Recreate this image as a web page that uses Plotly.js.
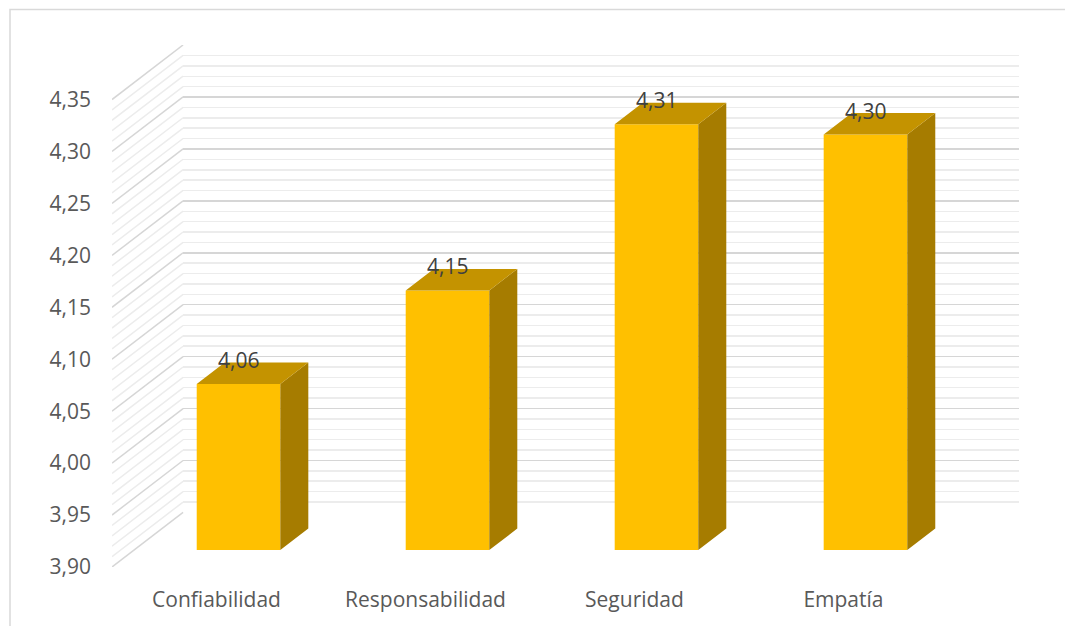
<!DOCTYPE html>
<html>
<head>
<meta charset="utf-8">
<script src="https://cdn.plot.ly/plotly-3.0.1.min.js"></script>
<style>html,body{margin:0;padding:0;background:#fff;}#chart{width:1065px;height:626px;}</style>
</head>
<body>
<div id="chart"></div>
<script>
// ---- data ----
const categories = ['Confiabilidad', 'Responsabilidad', 'Seguridad', 'Empatía'];
const values = [4.06, 4.15, 4.31, 4.30];
const valueTicks = [3.90, 3.95, 4.00, 4.05, 4.10, 4.15, 4.20, 4.25, 4.30, 4.35];
const minorStep = 0.01;

// ---- projection settings (oblique 3D look) ----
const AX_MIN = 3.90, AX_MAX = 4.35;
const DEPTH_X = 0.34;      // category units shift for full depth
const DEPTH_Y = 0.0525;    // value units shift for full depth
const BAR_START = 0.31;    // fraction of depth where bar front sits
const BAR_DEPTH = 0.394;   // fraction of depth the bar occupies
const BAR_WIDTH = 0.4;

const W = 1065, H = 626;
const px = v => v / W, py = v => 1 - v / H;

// left wall diagonals
function diagonals(major) {
  const xs = [], ys = [];
  const n = Math.round((AX_MAX - AX_MIN) / minorStep);
  for (let k = 0; k <= n; k++) {
    const v = AX_MIN + k * minorStep;
    const isMajor = (k % 5 === 0);
    if (isMajor !== major) continue;
    xs.push(-0.5, -0.5 + DEPTH_X, null);
    ys.push(v, v + DEPTH_Y, null);
  }
  return {x: xs, y: ys};
}
const dMinor = diagonals(false), dMajor = diagonals(true);

const fx = BAR_START * DEPTH_X, fy = BAR_START * DEPTH_Y;
const gx = BAR_DEPTH * DEPTH_X, gy = BAR_DEPTH * DEPTH_Y;
const base = AX_MIN + fy;

const sideX = [], sideY = [], topX = [], topY = [];
values.forEach((v, i) => {
  const xl = i + fx - BAR_WIDTH / 2, xr = i + fx + BAR_WIDTH / 2;
  const t = v + fy;
  sideX.push(xr, xr, xr + gx, xr + gx, xr, null);
  sideY.push(base, t, t + gy, base + gy, base, null);
  topX.push(xl, xr, xr + gx, xl + gx, xl, null);
  topY.push(t, t, t + gy, t + gy, t, null);
});

const FONT = '"Open Sans", Lato, sans-serif';

const traces = [
  // empty trace that keeps the back-wall subplot (its gridlines) alive
  {type: 'scatter', mode: 'none', x: [0.5], y: [AX_MIN], xaxis: 'x', yaxis: 'y',
   hoverinfo: 'skip', showlegend: false},
  {type: 'scatter', mode: 'lines', x: dMinor.x, y: dMinor.y, xaxis: 'x2', yaxis: 'y2',
   line: {color: '#ececec', width: 1.5}, hoverinfo: 'skip', showlegend: false},
  {type: 'scatter', mode: 'lines', x: dMajor.x, y: dMajor.y, xaxis: 'x2', yaxis: 'y2',
   line: {color: '#d6d6d6', width: 1.5}, hoverinfo: 'skip', showlegend: false},
  {type: 'bar', x: values.map((v, i) => i + fx), y: values.map(v => v - AX_MIN),
   base: values.map(() => base), width: BAR_WIDTH, xaxis: 'x2', yaxis: 'y2',
   marker: {color: '#FFC000', line: {width: 0}}, showlegend: false, hoverinfo: 'skip'},
  {type: 'scatter', mode: 'lines', x: sideX, y: sideY, fill: 'toself', fillcolor: '#A67C00',
   line: {width: 0, color: '#A67C00'}, xaxis: 'x2', yaxis: 'y2', showlegend: false, hoverinfo: 'skip'},
  {type: 'scatter', mode: 'lines', x: topX, y: topY, fill: 'toself', fillcolor: '#C49300',
   line: {width: 0, color: '#C49300'}, xaxis: 'x2', yaxis: 'y2', showlegend: false, hoverinfo: 'skip'}
];

const annotations = values.map((v, i) => ({
  xref: 'x2', yref: 'y2', x: i + fx, y: v + fy, yshift: 24, yanchor: 'middle', xanchor: 'center',
  text: v.toFixed(2).replace('.', ','), showarrow: false,
  font: {family: FONT, size: 21, color: '#404040'}
}));

const layout = {
  width: W, height: H,
  margin: {l: 0, r: 0, t: 0, b: 0},
  paper_bgcolor: '#ffffff', plot_bgcolor: 'rgba(0,0,0,0)',
  separators: ',.',
  showlegend: false, hovermode: false,
  // back wall
  xaxis: {domain: [px(183), px(1019)], anchor: 'y', range: [0, 1], showgrid: false, zeroline: false,
          showticklabels: false, ticks: '', showline: false},
  yaxis: {domain: [py(512.5), py(45)], anchor: 'x', range: [AX_MIN - 0.0002, AX_MAX + 0.0002],
          tick0: AX_MIN, dtick: 0.05, showgrid: true, gridcolor: '#d6d6d6', gridwidth: 1.5,
          minor: {dtick: minorStep, showgrid: true, gridcolor: '#ececec', gridwidth: 1.5, ticks: ''},
          zeroline: false, showticklabels: false, ticks: '', showline: false},
  // front projection space
  xaxis2: {domain: [px(112), px(1019)], anchor: 'y2', range: [-0.5, 3.5 + DEPTH_X],
           tickvals: categories.map((c, i) => i), ticktext: categories,
           showgrid: false, zeroline: false, showline: false, ticks: '',
           ticklabelstandoff: 18, tickfont: {family: FONT, size: 21, color: '#595959'}},
  yaxis2: {domain: [py(567), py(45)], anchor: 'x2', range: [AX_MIN, AX_MAX + DEPTH_Y],
           tickvals: valueTicks, tickformat: '.2f',
           showgrid: false, zeroline: false, showline: false, ticks: '',
           ticklabelstandoff: 20, tickfont: {family: FONT, size: 21, color: '#595959'}},
  annotations: annotations,
  shapes: [{type: 'rect', xref: 'paper', yref: 'paper', x0: px(10), x1: 1.05, y0: -0.05, y1: py(9.5),
            line: {color: '#d9d9d9', width: 1.5}, fillcolor: 'rgba(0,0,0,0)', layer: 'below'}]
};

Plotly.newPlot('chart', traces, layout, {staticPlot: true, displayModeBar: false});
</script>
</body>
</html>
